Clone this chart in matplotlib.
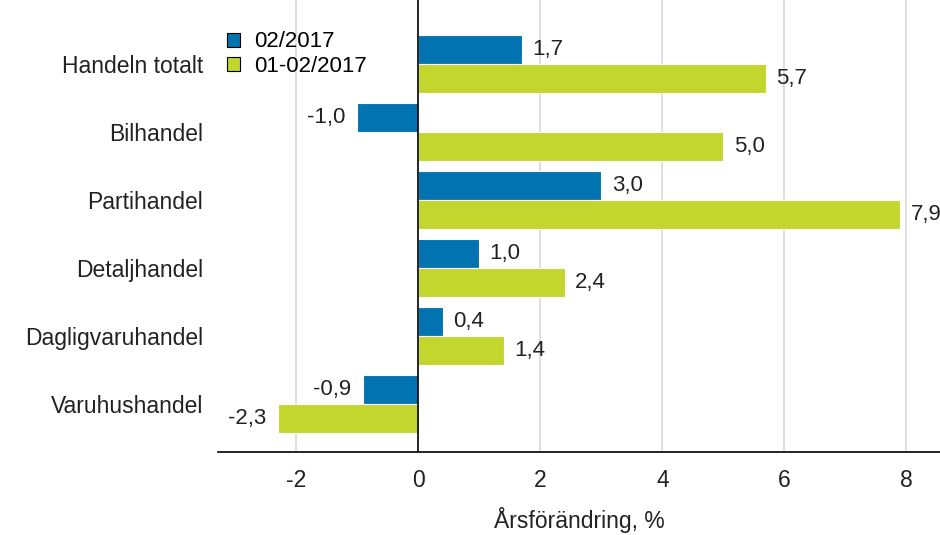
import matplotlib.pyplot as plt
import numpy as np

categories = ["Handeln totalt", "Bilhandel", "Partihandel", "Detaljhandel",
              "Dagligvaruhandel", "Varuhushandel"]
month_values = [1.7, -1.0, 3.0, 1.0, 0.4, -0.9]
cumulative_values = [5.7, 5.0, 7.9, 2.4, 1.4, -2.3]
series_labels = ["02/2017", "01-02/2017"]
xticks = [-2, 0, 2, 4, 6, 8]

blue = "#0073b0"
green = "#c2d62e"

plt.rcParams["font.family"] = ["Liberation Sans", "DejaVu Sans"]

fig = plt.figure(figsize=(9.4, 5.35), dpi=100)
ax = fig.add_axes([0.232, 0.155, 0.768, 0.845])

y = np.arange(len(categories))
h = 0.43
b1 = ax.barh(y - h / 2, month_values, height=h, color=blue,
             edgecolor="white", linewidth=0.8, label=series_labels[0], zorder=3)
b2 = ax.barh(y + h / 2, cumulative_values, height=h, color=green,
             edgecolor="white", linewidth=0.8, label=series_labels[1], zorder=3)

for bars, vals in [(b1, month_values), (b2, cumulative_values)]:
    for bar, v in zip(bars, vals):
        yc = bar.get_y() + bar.get_height() / 2
        txt = f"{v:.1f}".replace(".", ",")
        if v >= 0:
            ax.annotate(txt, (v, yc), xytext=(7.5, 0), textcoords="offset points",
                        ha="left", va="center", fontsize=16, color="#222222")
        else:
            ax.annotate(txt, (v, yc), xytext=(-8.5, 0), textcoords="offset points",
                        ha="right", va="center", fontsize=16, color="#222222")

ax.set_xlim(-3.28, 8.55)
ax.set_ylim(len(categories) - 1 + 0.706, -0.94)
ax.set_yticks(y)
ax.set_yticklabels(categories, fontsize=16.5, color="#222222")
ax.set_xticks(xticks)
ax.set_xticklabels([str(t) for t in xticks], fontsize=16.5, color="#222222")
ax.tick_params(axis="y", length=0, pad=11)
ax.tick_params(axis="x", length=0, pad=12)

for t in xticks:
    if t != 0:
        ax.axvline(t, color="#d9d9d9", linewidth=1.2, zorder=0)
ax.axvline(0, color="black", linewidth=1.2, zorder=4)

for s in ["top", "right", "left"]:
    ax.spines[s].set_visible(False)
ax.spines["bottom"].set_linewidth(1.2)

ax.set_xlabel("Årsförändring, %", fontsize=16.5, color="#222222")
ax.xaxis.set_label_coords(0.5, -0.122)

leg = ax.legend(loc="upper left", bbox_to_anchor=(0.0, 0.95), frameon=False,
                fontsize=16, handlelength=0.6, handleheight=0.6,
                handletextpad=0.6, labelspacing=0.15, borderaxespad=0)
for p in leg.get_patches():
    p.set_edgecolor("black")
    p.set_linewidth(0.8)

fig.savefig("out.png", dpi=100)
